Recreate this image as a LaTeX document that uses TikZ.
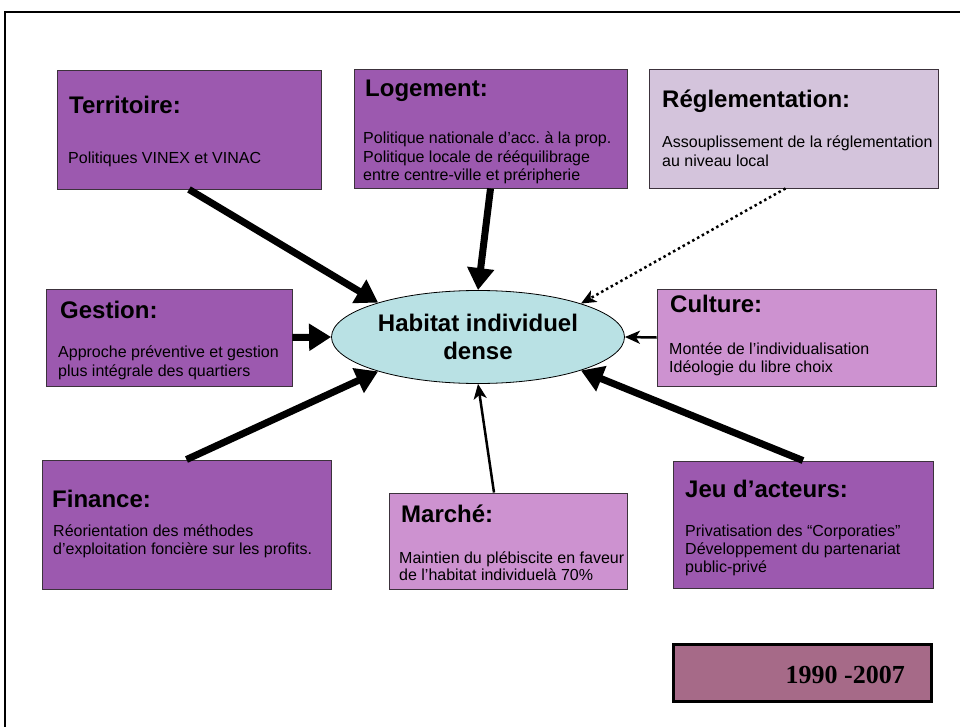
\documentclass[tikz,border=0pt]{standalone}
\usepackage{fontspec}
\setmainfont{Liberation Sans}
\newfontfamily\serifbold{Liberation Serif}
\usetikzlibrary{arrows.meta,shapes.geometric}
\definecolor{dpurple}{RGB}{156,89,175}
\definecolor{lpurple}{RGB}{205,146,208}
\definecolor{lilac}{RGB}{212,196,220}
\definecolor{ecyan}{RGB}{185,225,228}
\definecolor{datefill}{RGB}{166,106,136}
\definecolor{edgegray}{RGB}{60,50,60}
\frenchspacing
\begin{document}
\begin{tikzpicture}[x=1pt,y=-1pt,
  box/.style={draw=edgegray, line width=0.9pt, inner sep=0pt, rectangle},
  ttl/.style={anchor=base west, inner sep=0pt, font=\fontsize{24}{28}\selectfont\bfseries},
  txt/.style={anchor=base west, inner sep=0pt, font=\fontsize{16}{19}\selectfont},
  bigarr/.style={line width=7pt, -{Triangle[length=22pt,width=26pt]}},
  thinarr/.style={line width=2.5pt, -{Stealth[length=15pt,width=13pt,inset=4pt]}},
  dotarr/.style={line width=2.5pt, dash pattern=on 2.5pt off 3pt, -{Stealth[length=15pt,width=13pt,inset=4pt]}}
]
\useasboundingbox (0,0) rectangle (960,727);
\fill[white] (0,0) rectangle (960,727);
% frame
\draw[line width=2.2pt] (5,727) -- (5,12) -- (960,12);

% boxes
\node[box, fill=dpurple, minimum width=264, minimum height=119] (terr) at (189,129.5) {};
\node[box, fill=dpurple, minimum width=273, minimum height=119] (log) at (490.5,128.5) {};
\node[box, fill=lilac, minimum width=289, minimum height=119] (reg) at (793.5,128.5) {};
\node[box, fill=dpurple, minimum width=246, minimum height=97] (gest) at (169,337.5) {};
\node[box, fill=lpurple, minimum width=279, minimum height=97] (cult) at (796.5,337.5) {};
\node[box, fill=dpurple, minimum width=289, minimum height=129] (fin) at (186.5,524.5) {};
\node[box, fill=lpurple, minimum width=238, minimum height=96] (mar) at (508,541) {};
\node[box, fill=dpurple, minimum width=260, minimum height=127] (jeu) at (803,524.5) {};
\node[draw=black, line width=3pt, fill=datefill, inner sep=0pt, minimum width=258, minimum height=57] (date) at (802,672.5) {};

% ellipse
\node[ellipse, draw=black, line width=0.8pt, fill=ecyan, inner sep=0pt,
      minimum width=293, minimum height=93, align=center,
      font=\fontsize{24}{28}\selectfont\bfseries] (hab) at (478,337) {Habitat individuel\\dense};

% texts
\node[ttl] (terrT) at (69,114) {Territoire:};
\node[txt] (terrL1) at (68,164) {Politiques VINEX et VINAC};

\node[ttl] (logT) at (365,97) {Logement:};
\node[txt] (logL1) at (363,144) {Politique nationale d’acc. à la prop.};
\node[txt] (logL2) at (363,163) {Politique locale de rééquilibrage};
\node[txt] (logL3) at (363,181) {entre centre-ville et préripherie};

\node[ttl] (regT) at (662,108) {Réglementation:};
\node[txt] (regL1) at (662,148) {Assouplissement de la réglementation};
\node[txt] (regL2) at (662,167) {au niveau local};

\node[ttl] (gestT) at (60,318) {Gestion:};
\node[txt] (gestL1) at (58,357) {Approche préventive et gestion};
\node[txt] (gestL2) at (58,376) {plus intégrale des quartiers};

\node[ttl] (cultT) at (670,312) {Culture:};
\node[txt] (cultL1) at (669,354) {Montée de l’individualisation};
\node[txt] (cultL2) at (669,372) {Idéologie du libre choix};

\node[ttl] (finT) at (52,507) {Finance:};
\node[txt] (finL1) at (53,536) {Réorientation des méthodes};
\node[txt] (finL2) at (53,554) {d’exploitation foncière sur les profits.};

\node[ttl] (marT) at (401,522) {Marché:};
\node[txt] (marL1) at (399,563) {Maintien du plébiscite en faveur};
\node[txt] (marL2) at (399,580) {de l’habitat individuelà 70\%};

\node[ttl] (jeuT) at (685,497) {Jeu d’acteurs:};
\node[txt] (jeuL1) at (685,536) {Privatisation des “Corporaties”};
\node[txt] (jeuL2) at (685,554) {Développement du partenariat};
\node[txt] (jeuL3) at (685,572) {public-privé};

\node[anchor=base east, inner sep=0pt, font=\serifbold\fontsize{26}{30}\selectfont\bfseries] (dateT) at (905,683) {1990 -2007};

% arrows
\draw[bigarr] (terr.south) -- (hab.161);
\draw[bigarr] (log.south) -- (hab.north);
\draw[dotarr] ([xshift=-8pt]reg.south) -- (hab.18);
\draw[bigarr] (gest.east) -- (hab.west);
\draw[thinarr] (cult.west) -- (hab.east);
\draw[bigarr] (fin.north) -- (hab.199);
\draw[thinarr] ([xshift=-14pt]mar.north) -- (hab.south);
\draw[bigarr] (jeu.north) -- (hab.-18);
\end{tikzpicture}
\end{document}
